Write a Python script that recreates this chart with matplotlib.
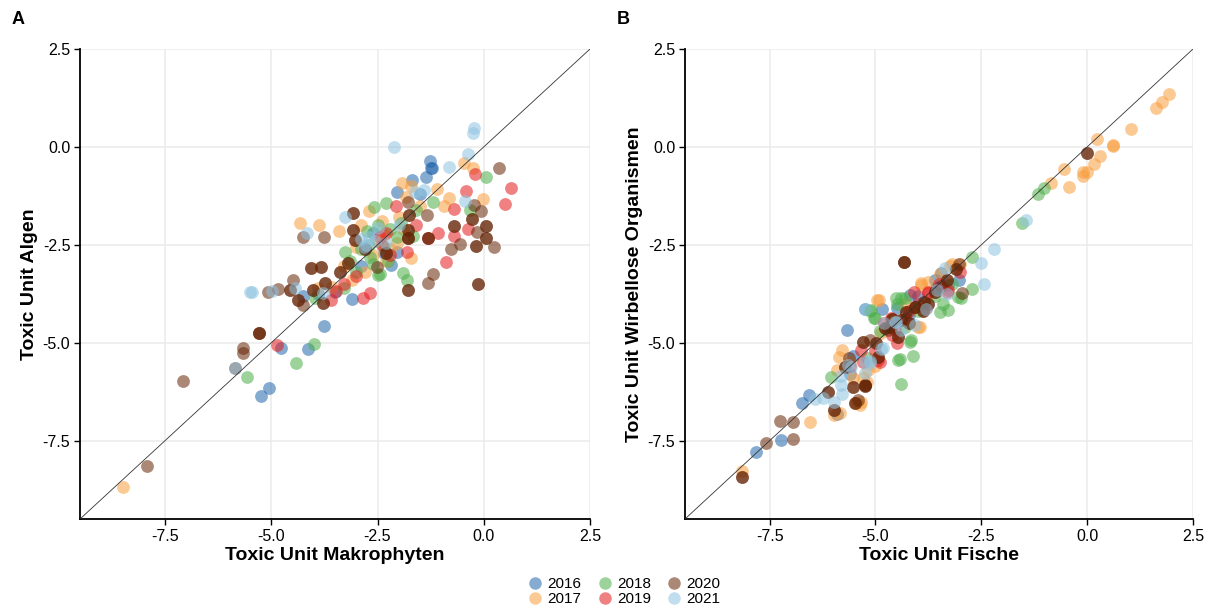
import matplotlib
matplotlib.use("Agg")
import matplotlib.pyplot as plt
from matplotlib.lines import Line2D

plt.rcParams['font.family'] = ['Liberation Sans', 'DejaVu Sans']

years = ["2016", "2017", "2018", "2019", "2020", "2021"]
year_colors = ["#2166ac", "#f99d3c", "#4daf4a", "#e41a1c", "#662506", "#8fc3e0"]
tick_values = [-7.5, -5.0, -2.5, 0.0, 2.5]
tick_labels = ["-7.5", "-5.0", "-2.5", "0.0", "2.5"]

# Panel A: Makrophyten (x) vs Algen (y), per year
a_2016 = [(-5.25, -6.35), (-5.05, -6.15), (-4.77, -5.13), (-4.14, -5.17), (-3.76, -4.58),
          (-4.25, -3.8), (-3.09, -3.88), (-2.03, -2.68), (-2.19, -3.01), (-1.27, -0.36),
          (-1.24, -0.53), (-1.22, -0.55), (-1.36, -0.76), (-1.69, -0.85), (-2.05, -1.15),
          (-3.9, -3.75), (-2.6, -2.2), (-1.5, -1.2), (-2.35, -2.7), (-2.9, -3.05),
          (-3.5, -3.7)]
a_2017 = [(-8.5, -8.68), (-4.32, -1.95), (-3.87, -2.0), (-3.4, -2.15), (-2.71, -1.64),
          (-1.93, -0.92), (-1.72, -1.0), (-1.84, -1.27), (-1.1, -1.07), (-0.82, -1.3),
          (-0.94, -1.51), (-0.46, -0.41), (-0.25, -0.53), (-0.01, -1.33), (-1.72, -2.83),
          (-3.57, -3.58), (-2.9, -2.0), (-2.5, -2.4), (-2.3, -2.9), (-2.0, -1.8),
          (-3.1, -3.4), (-2.8, -3.2), (-1.5, -1.5), (-2.4, -1.9), (-2.35, -2.25),
          (-2.6, -2.75), (-2.2, -2.6), (-3.0, -2.55), (-1.9, -2.1), (-2.05, -2.45),
          (-3.3, -3.05), (-3.9, -3.6)]
a_2018 = [(-5.58, -5.88), (-4.42, -5.52), (-4.0, -5.03), (-3.26, -2.68), (-3.97, -3.85),
          (-2.59, -1.53), (-2.29, -1.43), (-1.67, -2.28), (-1.91, -3.22), (-1.81, -3.4),
          (-2.43, -3.24), (-2.67, -2.81), (-2.48, -3.27), (-0.32, -1.61), (0.06, -0.78),
          (-2.9, -2.6), (-2.7, -2.5), (-2.6, -3.0), (-3.0, -3.2), (-3.3, -3.6),
          (-2.2, -2.1), (-1.6, -1.6), (-1.2, -1.4), (-2.35, -2.55), (-2.05, -2.3),
          (-2.75, -2.15), (-3.15, -2.9), (-2.5, -2.0), (-1.95, -1.95), (-2.25, -2.9)]
a_2019 = [(-4.87, -5.05), (-3.47, -3.68), (-2.83, -3.86), (-2.67, -3.73), (-2.29, -2.2),
          (-2.07, -1.5), (-1.81, -2.68), (-0.7, -1.59), (-0.41, -1.13), (-0.2, -0.68),
          (0.63, -1.04), (0.51, -1.45), (-0.37, -2.09), (-0.7, -2.28), (-1.08, -2.2),
          (-1.32, -2.32), (-0.89, -2.94), (-3.6, -3.9), (-2.4, -2.5), (-3.3, -3.5),
          (-2.45, -2.3), (-2.2, -2.75), (-3.0, -3.3), (-1.6, -2.0)]
a_2020 = [(-7.93, -8.15), (-7.07, -5.97), (-5.67, -5.14), (-5.67, -5.27), (-5.3, -4.75),
          (-5.3, -4.75), (-5.3, -4.75), (-5.86, -5.64), (-5.08, -3.7), (-4.85, -3.63),
          (-4.56, -3.65), (-4.56, -3.65), (-4.49, -3.39), (-4.37, -3.9), (-4.37, -3.9),
          (-4.25, -4.03), (-4.02, -3.65), (-4.02, -3.65), (-3.78, -3.98), (-3.78, -3.98),
          (-3.73, -3.47), (-3.73, -3.47), (-4.06, -3.09), (-4.06, -3.09), (-3.83, -3.06),
          (-3.83, -3.06), (-4.25, -2.3), (-3.76, -2.3), (-3.07, -1.68), (-3.07, -1.68),
          (-3.07, -2.13), (-3.07, -2.13), (-3.04, -2.37), (-3.04, -2.37), (-3.19, -2.96),
          (-3.19, -2.96), (-3.38, -3.19), (-3.38, -3.19), (-2.31, -2.71), (-2.31, -2.71),
          (-2.52, -3.06), (-1.79, -1.4), (-1.77, -1.74), (-1.77, -1.74), (-1.34, -1.74),
          (-1.79, -2.12), (-1.79, -2.12), (-1.79, -2.32), (-1.79, -2.32), (-1.79, -2.32),
          (-1.79, -3.65), (-1.79, -3.65), (-1.32, -2.32), (-1.32, -2.32), (-1.2, -3.25),
          (-1.32, -3.47), (-0.27, -1.84), (-0.27, -1.84), (-0.7, -2.02), (-0.7, -2.02),
          (-0.15, -2.17), (0.06, -2.02), (0.06, -2.02), (0.06, -2.32), (0.06, -2.32),
          (-0.18, -2.53), (-0.18, -2.53), (0.25, -2.55), (-0.56, -2.49), (-0.77, -2.6),
          (-0.13, -3.5), (-0.13, -3.5), (-0.22, -1.48), (-0.06, -1.64), (0.37, -0.55),
          (-2.8, -2.6), (-2.8, -2.6)]
a_2021 = [(-2.12, 0.0), (-0.25, 0.35), (-0.22, 0.48), (-0.37, -0.18), (-0.82, -0.51),
          (-1.41, -1.1), (-1.62, -1.15), (-0.44, -1.38), (-5.49, -3.7), (-5.45, -3.7),
          (-4.99, -3.68), (-4.44, -3.6), (-4.16, -2.2), (-3.26, -1.79), (-2.48, -2.08),
          (-2.78, -2.5), (-2.82, -2.56), (-5.86, -5.64), (-3.78, -3.73), (-2.7, -2.3),
          (-2.9, -2.35), (-2.55, -2.4), (-2.3, -2.45), (-2.0, -2.0)]

# Panel B: Fische (x) vs Wirbellose Organismen (y), per year
b_2016 = [(-7.82, -7.79), (-7.23, -7.48), (-6.56, -6.33), (-6.73, -6.53), (-5.25, -4.14),
          (-4.85, -4.13), (-5.68, -4.67), (-5.54, -5.33), (-3.57, -3.6), (-3.02, -3.39),
          (-4.5, -4.1), (-4.0, -3.8), (-3.6, -3.4), (-4.7, -4.6), (-5.6, -5.8), (-4.2, -4.3),
          (-4.18, -3.78), (-3.28, -3.52), (-3.45, -3.22), (-5.9, -6.82)]
b_2017 = [(-8.15, -8.27), (-6.54, -7.03), (-5.78, -5.18), (-5.87, -5.36), (-5.85, -6.8),
          (-5.47, -6.55), (-5.2, -6.0), (-4.97, -3.9), (-4.92, -3.9), (-3.92, -3.52),
          (-3.75, -3.45), (-3.47, -3.24), (-3.23, -3.03), (-3.0, -3.0), (1.93, 1.36),
          (1.76, 1.15), (1.62, 1.0), (1.04, 0.46), (0.24, 0.21), (0.6, 0.03), (0.6, 0.05),
          (0.3, -0.23), (0.17, -0.43), (-0.1, -0.65), (0.0, -0.65), (-0.1, -0.75),
          (-0.55, -0.56), (-0.43, -1.02), (-0.86, -0.92), (-5.3, -5.9), (-5.6, -5.5),
          (-4.6, -4.4), (-4.3, -4.0), (-5.9, -5.7), (-5.0, -5.6), (-4.0, -4.6),
          (-3.95, -4.59), (-5.18, -5.69), (-5.35, -6.52), (-5.54, -5.9), (-5.37, -6.58),
          (-5.97, -6.85), (-4.87, -4.75), (-3.2, -3.0), (-3.92, -3.47)]
b_2018 = [(-1.02, -1.05), (-1.16, -1.2), (-1.54, -1.94), (-2.71, -2.8), (-2.73, -3.62),
          (-2.99, -3.86), (-5.04, -4.36), (-5.13, -4.2), (-4.16, -4.93), (-4.11, -5.34),
          (-4.42, -5.41), (-4.4, -6.05), (-6.06, -5.87), (-4.5, -4.0), (-4.0, -4.2),
          (-3.6, -3.8), (-3.4, -4.0), (-4.9, -4.7), (-5.2, -5.4), (-3.2, -3.5), (-4.3, -4.6),
          (-4.51, -3.86), (-5.1, -4.17), (-5.02, -4.36), (-4.4, -3.86), (-3.04, -3.83),
          (-3.28, -4.16), (-3.47, -4.21), (-4.18, -4.98), (-4.47, -5.44), (-4.3, -3.85)]
b_2019 = [(-3.75, -3.7), (-3.3, -3.7), (-4.6, -4.8), (-4.3, -4.4), (-4.0, -4.0),
          (-3.8, -4.1), (-5.0, -5.2), (-5.3, -5.5), (-3.5, -3.5), (-4.5, -5.0),
          (-4.8, -4.5), (-3.0, -3.2), (-5.6, -5.6), (-4.1, -3.7), (-3.75, -3.73),
          (-4.63, -4.37), (-4.54, -4.67), (-4.9, -5.5), (-5.35, -5.18), (-4.94, -5.44),
          (-3.28, -3.65), (-4.2, -4.2)]
b_2020 = [(-8.15, -8.43), (-8.15, -8.43), (-7.25, -7.0), (-6.96, -7.03), (-6.96, -7.46),
          (-7.58, -7.56), (0.0, -0.15), (0.0, -0.15), (-4.33, -2.94), (-4.33, -2.94),
          (-4.33, -2.94), (-3.09, -3.12), (-3.09, -3.12), (-3.02, -2.98), (-3.31, -3.39),
          (-3.31, -3.39), (-4.06, -4.08), (-4.06, -4.08), (-4.06, -4.08), (-3.75, -4.0),
          (-3.75, -4.0), (-3.88, -4.2), (-3.88, -4.2), (-4.28, -4.21), (-4.28, -4.21),
          (-4.78, -4.62), (-4.78, -4.62), (-4.47, -4.85), (-4.47, -4.85), (-4.99, -5.0),
          (-4.99, -5.0), (-4.94, -5.37), (-4.94, -5.37), (-5.25, -6.08), (-5.25, -6.08),
          (-5.3, -4.98), (-5.3, -4.98), (-5.13, -4.93), (-5.73, -5.61), (-5.73, -5.61),
          (-5.54, -6.13), (-5.54, -6.13), (-5.25, -6.1), (-5.25, -6.1), (-6.13, -6.26),
          (-6.13, -6.26), (-5.97, -6.71), (-5.97, -6.71), (-5.49, -6.53), (-5.49, -6.53),
          (-2.95, -3.72), (-4.6, -4.4), (-4.6, -4.4), (-4.2, -4.5), (-4.2, -4.5),
          (-3.6, -3.7), (-3.6, -3.7), (-4.7, -4.67), (-4.63, -4.6), (-4.63, -4.6),
          (-4.4, -4.42), (-4.4, -4.42), (-3.85, -3.95), (-3.85, -3.95), (-5.42, -6.46),
          (-5.63, -5.4), (-3.45, -3.55)]
b_2021 = [(-2.21, -2.6), (-2.5, -2.96), (-2.43, -3.49), (-3.8, -4.15), (-4.51, -4.47),
          (-4.06, -4.54), (-4.4, -4.67), (-4.82, -5.13), (-5.25, -5.49), (-5.25, -5.77),
          (-5.59, -5.61), (-5.82, -5.85), (-5.82, -6.07), (-5.78, -6.3), (-6.44, -6.43),
          (-6.25, -6.41), (-5.97, -6.51), (-3.31, -3.75), (-1.45, -1.87), (-5.25, -4.13),
          (-4.8, -4.5), (-3.35, -3.1), (-5.13, -5.51), (-5.13, -5.46), (-5.66, -5.56),
          (-4.87, -5.16), (-4.54, -4.48), (-3.54, -3.65)]

panel_a = [a_2016, a_2017, a_2018, a_2019, a_2020, a_2021]
panel_b = [b_2016, b_2017, b_2018, b_2019, b_2020, b_2021]

fig = plt.figure(figsize=(12.1, 6.12), dpi=100)
ax_a = fig.add_axes([80 / 1210, 93 / 612, 510 / 1210, 470 / 612])
ax_b = fig.add_axes([685 / 1210, 93 / 612, 508 / 1210, 470 / 612])


def draw_panel(ax, data, xlabel, ylabel):
    ax.set_axisbelow(True)
    ax.grid(True, color="#ebebeb", linewidth=1.1)
    for pts, col in zip(data, year_colors):
        xs = [p[0] for p in pts]
        ys = [p[1] for p in pts]
        ax.scatter(xs, ys, s=85, color=col, alpha=0.55, linewidths=0, zorder=2)
    ax.axline((0, 0), slope=1, color="#333333", linewidth=0.6, zorder=3)
    ax.set_xlim(-9.5, 2.5)
    ax.set_ylim(-9.5, 2.5)
    ax.set_xticks(tick_values)
    ax.set_xticklabels(tick_labels)
    ax.set_yticks(tick_values)
    ax.set_yticklabels(tick_labels)
    ax.tick_params(labelsize=11.5, length=4, width=1, colors="black", pad=3)
    for side in ["top", "right"]:
        ax.spines[side].set_visible(False)
    for side in ["left", "bottom"]:
        ax.spines[side].set_linewidth(1.3)
        ax.spines[side].set_color("black")
    ax.set_xlabel(xlabel, fontsize=14, fontweight="bold", labelpad=2)
    ax.set_ylabel(ylabel, fontsize=14, fontweight="bold", labelpad=3)


draw_panel(ax_a, panel_a, "Toxic Unit Makrophyten", "Toxic Unit Algen")
draw_panel(ax_b, panel_b, "Toxic Unit Fische", "Toxic Unit Wirbellose Organismen")

fig.text(12 / 1210, 1 - 20 / 612, "A", fontsize=13, fontweight="bold", va="center")
fig.text(617 / 1210, 1 - 20 / 612, "B", fontsize=13, fontweight="bold", va="center")

handles = [Line2D([], [], marker="o", linestyle="none", markersize=9,
                  markerfacecolor=c, markeredgewidth=0, alpha=0.55)
           for c in year_colors]
fig.legend(handles, years, loc="center", bbox_to_anchor=(0.515, 0.033), ncol=3,
           frameon=False, fontsize=11, handletextpad=0.2, columnspacing=0.9,
           labelspacing=0.05, handlelength=1.2)

fig.savefig("out.png", dpi=100)
